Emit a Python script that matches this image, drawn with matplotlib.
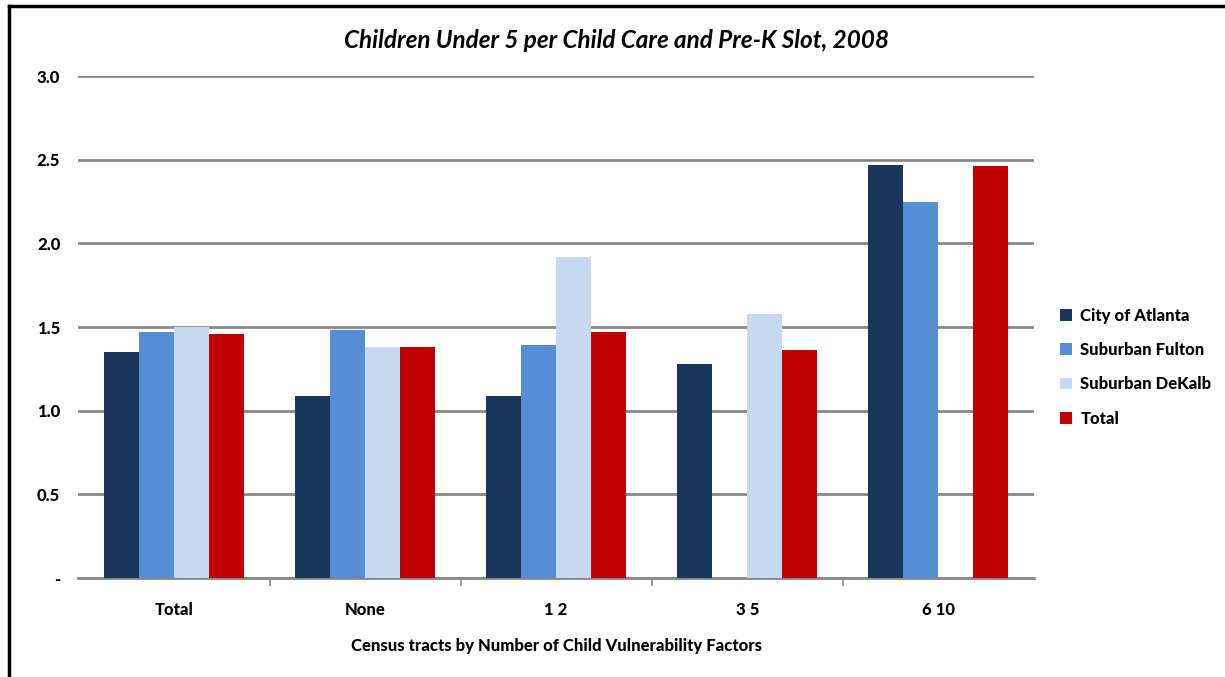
import matplotlib.pyplot as plt
import numpy as np

categories = ['Total', 'None', '1 2', '3 5', '6 10']
series = ['City of Atlanta', 'Suburban Fulton', 'Suburban DeKalb', 'Total']
atlanta = [1.35, 1.09, 1.09, 1.28, 2.47]
fulton = [1.47, 1.48, 1.39, np.nan, 2.25]
dekalb = [1.50, 1.38, 1.92, 1.58, np.nan]
total = [1.46, 1.38, 1.47, 1.36, 2.46]
colors = ['#1a365d', '#558ed5', '#c6d9f0', '#c00000']
yticks = [0, 0.5, 1.0, 1.5, 2.0, 2.5, 3.0]
ytick_labels = ['-', '0.5', '1.0', '1.5', '2.0', '2.5', '3.0']

plt.rcParams['font.family'] = ['Lato', 'DejaVu Sans']
heavy = 'black'

fig = plt.figure(figsize=(12.25, 6.77), dpi=100)
ax = fig.add_axes([0.064, 0.1462, 0.780, 0.7415])

x = np.arange(len(categories))
w = 0.183
for i, (vals, name) in enumerate(zip([atlanta, fulton, dekalb, total], series)):
    ax.bar(x + (i - 1.5) * w, vals, w, color=colors[i], label=name, zorder=3)

ax.set_xlim(-0.5, len(categories) - 0.5)
ax.set_ylim(0, 3.0)
ax.set_yticks(yticks)
ax.set_yticklabels(ytick_labels, fontsize=12, fontweight=heavy)
ax.set_xticks(x)
ax.set_xticklabels(categories, fontsize=12, fontweight=heavy)
ax.tick_params(axis='x', length=0, pad=17)
ax.tick_params(axis='y', length=0, pad=13)
ax.set_xticks(np.arange(0.5, len(categories) - 0.5, 1), minor=True)
ax.tick_params(axis='x', which='minor', length=6, width=1.2, color='#888888', direction='out')
ax.yaxis.grid(True, color='#888888', linewidth=2, zorder=0)
for s in ['top', 'right', 'left']:
    ax.spines[s].set_visible(False)
ax.spines['bottom'].set_color('#888888')
ax.spines['bottom'].set_linewidth(2)

ax.set_xlabel('Census tracts by Number of Child Vulnerability Factors',
              fontsize=12, fontweight=heavy, labelpad=15)
fig.text(0.503, 0.94, 'Children Under 5 per Child Care and Pre-K Slot, 2008',
         ha='center', va='center', fontsize=17.5, fontstyle='italic', fontweight='bold')

ax.legend(loc='center left', bbox_to_anchor=(1.012, 0.42), frameon=False,
          prop={'size': 12, 'weight': heavy}, handlelength=0.7, handleheight=0.7,
          labelspacing=1.1, handletextpad=0.5)

# border lines at top and left
fig.add_artist(plt.Line2D([0.007, 1], [0.991, 0.991], color='black', linewidth=2.5))
fig.add_artist(plt.Line2D([0.0075, 0.0075], [0, 0.991], color='black', linewidth=2.5))

fig.savefig('out.png', dpi=100)
